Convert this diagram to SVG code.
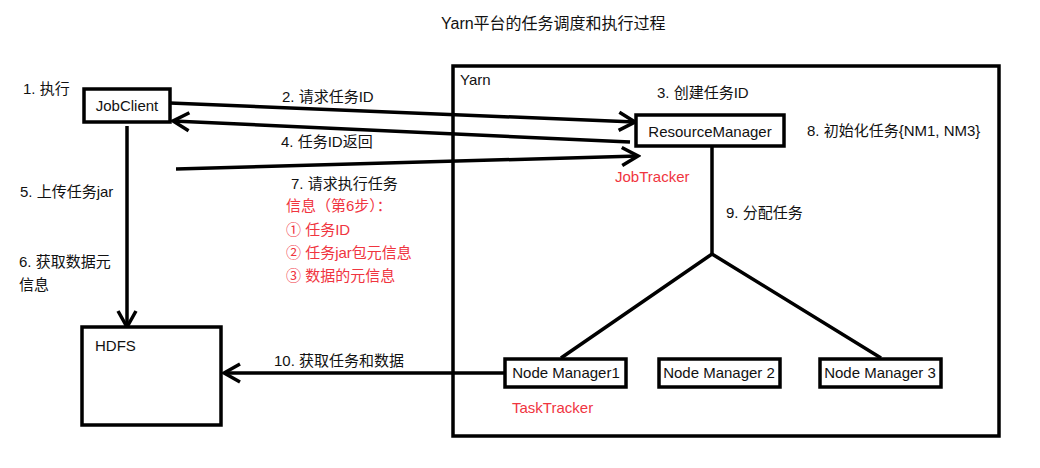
<svg xmlns="http://www.w3.org/2000/svg" width="1040" height="468" viewBox="0 0 1040 468">
<defs>
<style>
text{font-family:"Liberation Sans","Noto Sans CJK SC",sans-serif;font-size:15px;fill:#111}
.red{fill:#f0353f}
.title{font-size:16px}
.box{fill:#fff;stroke:#000;stroke-width:3.5}
.ln{fill:none;stroke:#000;stroke-width:3.5}
.mid{text-anchor:middle}
</style>
<marker id="arr" markerUnits="userSpaceOnUse" markerWidth="24" markerHeight="24" viewBox="0 0 24 24" refX="21" refY="12" orient="auto">
<path d="M5,3 L21,12 L5,21" fill="none" stroke="#000" stroke-width="3.5"/>
</marker>
</defs>
<rect width="1040" height="468" fill="#fff"/>
<text class="title" x="441" y="29">Yarn平台的任务调度和执行过程</text>

<g id="yarn">
<rect class="box" x="453" y="66" width="546" height="370"/>
<text x="460" y="85">Yarn</text>
</g>

<g id="connectors">
<line class="ln" x1="170" y1="103" x2="635" y2="122" marker-end="url(#arr)"/>
<line class="ln" x1="630" y1="142" x2="173" y2="121" marker-end="url(#arr)"/>
<line class="ln" x1="176" y1="169" x2="638" y2="156" marker-end="url(#arr)"/>
<line class="ln" x1="127" y1="126" x2="127" y2="327" marker-end="url(#arr)"/>
<line class="ln" x1="504" y1="373" x2="224" y2="373" marker-end="url(#arr)"/>
<polyline class="ln" points="712,147 712,254"/>
<polyline class="ln" points="561,358 712,254 881,358"/>
</g>

<g id="labels">
<text x="23" y="94">1. 执行</text>
<text x="282" y="102">2. 请求任务ID</text>
<text x="657" y="98">3. 创建任务ID</text>
<text x="281" y="147">4. 任务ID返回</text>
<text x="20" y="197">5. 上传任务jar</text>
<text x="19" y="267">6. 获取数据元</text>
<text x="19" y="290">信息</text>
<text x="291" y="189">7. 请求执行任务</text>
<text class="red" x="286" y="211">信息（第6步）：</text>
<text class="red" x="286" y="235">① 任务ID</text>
<text class="red" x="286" y="258">② 任务jar包元信息</text>
<text class="red" x="286" y="281">③ 数据的元信息</text>
<text x="807" y="136">8. 初始化任务{NM1, NM3}</text>
<text x="726" y="218">9. 分配任务</text>
<text x="274" y="366">10. 获取任务和数据</text>
<text class="red" x="615" y="182">JobTracker</text>
<text class="red" x="512" y="413">TaskTracker</text>
</g>

<g id="jobclient">
<rect class="box" x="84" y="89" width="86" height="33"/>
<text class="mid" x="127" y="111">JobClient</text>
</g>

<g id="resourcemanager">
<rect class="box" x="636" y="115" width="148" height="31"/>
<text class="mid" x="710" y="137">ResourceManager</text>
</g>

<g id="hdfs">
<rect class="box" x="82" y="327" width="139" height="98"/>
<text x="95" y="351">HDFS</text>
</g>

<g id="nm1">
<rect class="box" x="505" y="359" width="121" height="28"/>
<text class="mid" x="566" y="378">Node Manager1</text>
</g>

<g id="nm2">
<rect class="box" x="659" y="359" width="121" height="28"/>
<text class="mid" x="719" y="378">Node Manager 2</text>
</g>

<g id="nm3">
<rect class="box" x="820" y="359" width="121" height="28"/>
<text class="mid" x="880" y="378">Node Manager 3</text>
</g>
</svg>
